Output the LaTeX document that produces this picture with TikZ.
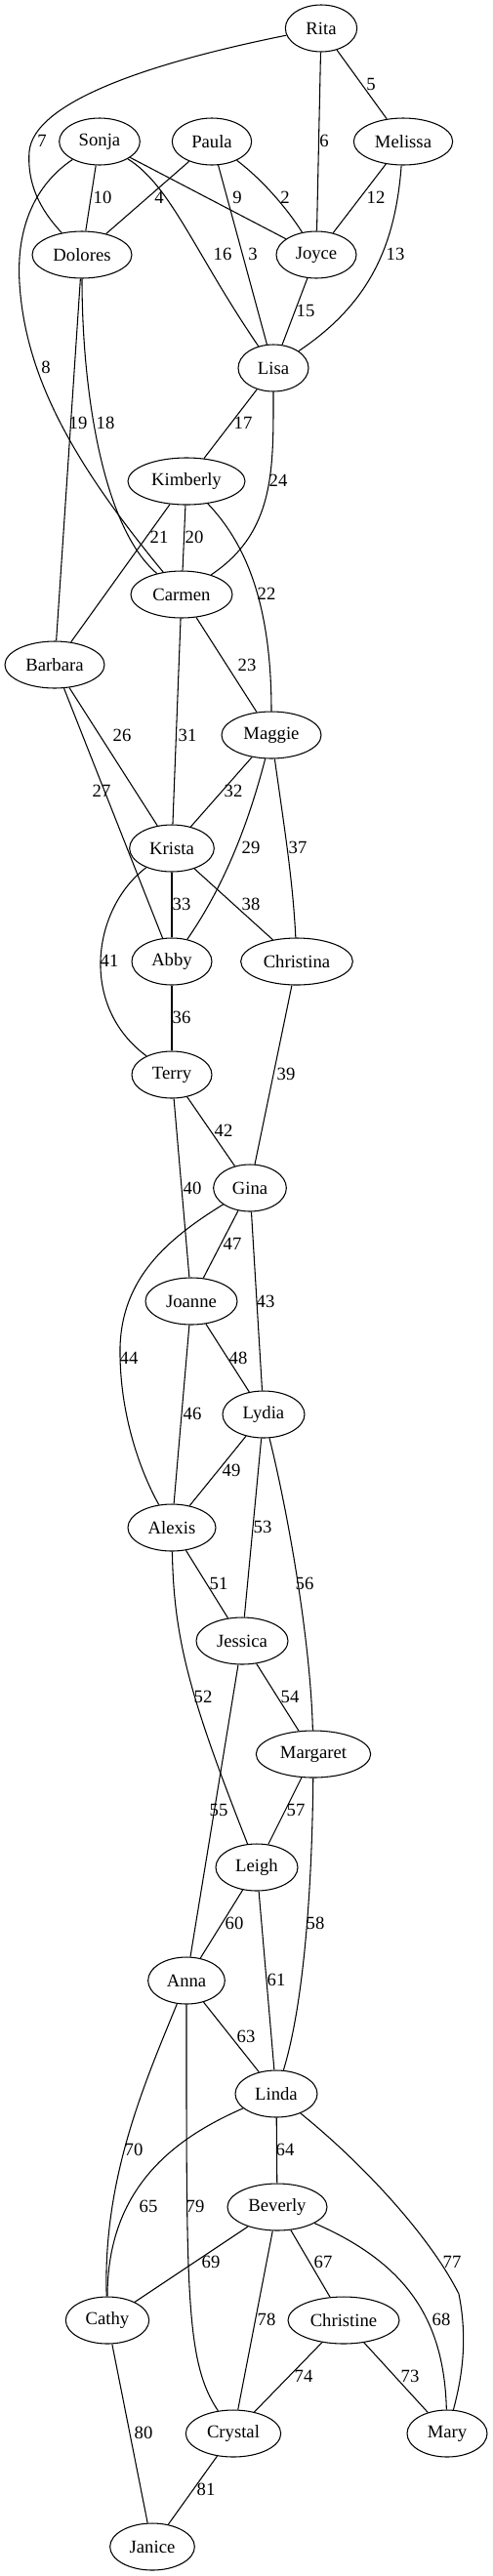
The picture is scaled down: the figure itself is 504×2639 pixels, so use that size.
\documentclass[tikz,border=0pt]{standalone}
\usepackage{fontspec}
\setmainfont{Liberation Serif}
\usetikzlibrary{shapes.geometric}
\tikzset{
  nd/.style={ellipse, draw, line width=0.8pt, minimum height=36pt, inner sep=0pt, font=\fontsize{14}{16}\selectfont},
  lab/.style={inner sep=0pt, font=\fontsize{14}{16}\selectfont},
  ed/.style={line width=0.8pt}
}
\begin{document}
\begin{tikzpicture}[x=0.75pt,y=-0.75pt]
\useasboundingbox (0,0) rectangle (504,2639);
% nodes
\node[nd, minimum width=55pt] (Rita) at (329,29) {Rita};
\node[nd, minimum width=62pt] (Sonja) at (102,145) {Sonja};
\node[nd, minimum width=61pt] (Paula) at (217,145) {Paula};
\node[nd, minimum width=76pt] (Melissa) at (413,145) {Melissa};
\node[nd, minimum width=76.5pt] (Dolores) at (84,261) {Dolores};
\node[nd, minimum width=61.5pt] (Joyce) at (324,261) {Joyce};
\node[nd, minimum width=54pt] (Lisa) at (280,377) {Lisa};
\node[nd, minimum width=90pt] (Kimberly) at (191,493) {Kimberly};
\node[nd, minimum width=78pt] (Carmen) at (186,609) {Carmen};
\node[nd, minimum width=76.5pt] (Barbara) at (56,681) {Barbara};
\node[nd, minimum width=76.5pt] (Maggie) at (278,753) {Maggie};
\node[nd, minimum width=65pt] (Krista) at (176,869) {Krista};
\node[nd, minimum width=61.5pt] (Abby) at (176,985) {Abby};
\node[nd, minimum width=86pt] (Christina) at (304,985) {Christina};
\node[nd, minimum width=61.5pt] (Terry) at (176,1101) {Terry};
\node[nd, minimum width=56pt] (Gina) at (256,1217) {Gina};
\node[nd, minimum width=70.5pt] (Joanne) at (196,1333) {Joanne};
\node[nd, minimum width=63pt] (Lydia) at (270,1449) {Lydia};
\node[nd, minimum width=67.5pt] (Alexis) at (176,1565) {Alexis};
\node[nd, minimum width=70.5pt] (Jessica) at (248,1681) {Jessica};
\node[nd, minimum width=88pt] (Margaret) at (321,1797) {Margaret};
\node[nd, minimum width=63pt] (Leigh) at (263,1913) {Leigh};
\node[nd, minimum width=59pt] (Anna) at (191,2029) {Anna};
\node[nd, minimum width=63pt] (Linda) at (283,2145) {Linda};
\node[nd, minimum width=76.5pt] (Beverly) at (284,2261) {Beverly};
\node[nd, minimum width=64pt] (Cathy) at (110,2377) {Cathy};
\node[nd, minimum width=85.5pt] (Christine) at (352,2377) {Christine};
\node[nd, minimum width=73pt] (Crystal) at (239,2493) {Crystal};
\node[nd, minimum width=61.5pt] (Mary) at (458,2493) {Mary};
\node[nd, minimum width=65pt] (Janice) at (156,2609) {Janice};
% edges
\draw[ed] (Rita) -- (Melissa) node[lab] at (380,86) {5};
\draw[ed] (Rita) -- (Joyce) node[lab] at (332,144) {6};
\draw[ed] (Rita) .. controls (150,65) and (35,105) .. (30,155) .. controls (27,195) and (48,222) .. (Dolores) node[lab] at (43,144) {7};
\draw[ed] (Sonja) -- (Dolores) node[lab] at (105,202) {10};
\draw[ed] (Paula) -- (Dolores) node[lab] at (163,202) {4};
\draw[ed] (Sonja) -- (Joyce) node[lab] at (243,202) {9};
\draw[ed] (Paula) .. controls (270,185) and (295,215) .. (Joyce) node[lab] at (292,202) {2};
\draw[ed] (Melissa) -- (Joyce) node[lab] at (385,202) {12};
\draw[ed] (Sonja) .. controls (175,190) and (200,260) .. (Lisa) node[lab] at (228,260) {16};
\draw[ed] (Paula) -- (Lisa) node[lab] at (259,260) {3};
\draw[ed] (Melissa) .. controls (405,250) and (380,310) .. (Lisa) node[lab] at (405,260) {13};
\draw[ed] (Joyce) -- (Lisa) node[lab] at (313,318) {15};
\draw[ed] (Sonja) .. controls (42,185) and (16,225) .. (20,290) .. controls (26,390) and (80,480) .. (Carmen) node[lab] at (47,376) {8};
\draw[ed] (Dolores) -- (Barbara) node[lab] at (80,433) {19};
\draw[ed] (Dolores) .. controls (84,400) and (105,540) .. (Carmen) node[lab] at (108,433) {18};
\draw[ed] (Lisa) -- (Kimberly) node[lab] at (249,433) {17};
\draw[ed] (Lisa) .. controls (280,480) and (282,545) .. (Carmen) node[lab] at (285,492) {24};
\draw[ed] (Kimberly) -- (Barbara) node[lab] at (163,550) {21};
\draw[ed] (Kimberly) -- (Carmen) node[lab] at (199,550) {20};
\draw[ed] (Kimberly) .. controls (250,555) and (278,615) .. (Maggie) node[lab] at (273,608) {22};
\draw[ed] (Carmen) -- (Maggie) node[lab] at (253,681) {23};
\draw[ed] (Carmen) -- (Krista) node[lab] at (192,753) {31};
\draw[ed] (Barbara) -- (Krista) node[lab] at (125,753) {26};
\draw[ed] (Barbara) -- (Abby) node[lab] at (104,810) {27};
\draw[ed] (Maggie) -- (Krista) node[lab] at (239,810) {32};
\draw[ed] (Maggie) .. controls (258,830) and (235,900) .. (Abby) node[lab] at (257,868) {29};
\draw[ed] (Maggie) .. controls (290,840) and (300,900) .. (Christina) node[lab] at (305,868) {37};
\draw[ed] (Krista) -- (Abby) node[lab] at (186,926) {33};
\draw[ed] (Krista) -- (Christina) node[lab] at (257,926) {38};
\draw[ed] (Krista) .. controls (95,930) and (80,1030) .. (Terry) node[lab] at (112,984) {41};
\draw[ed] (Abby) -- (Terry) node[lab] at (186,1042) {36};
\draw[ed] (Christina) -- (Gina) node[lab] at (293,1100) {39};
\draw[ed] (Terry) -- (Gina) node[lab] at (229,1158) {42};
\draw[ed] (Terry) -- (Joanne) node[lab] at (197,1217) {40};
\draw[ed] (Gina) .. controls (170,1270) and (125,1310) .. (123,1380) .. controls (122,1450) and (145,1510) .. (Alexis) node[lab] at (132,1391) {44};
\draw[ed] (Gina) -- (Joanne) node[lab] at (238,1274) {47};
\draw[ed] (Gina) -- (Lydia) node[lab] at (272,1333) {43};
\draw[ed] (Joanne) -- (Lydia) node[lab] at (244,1391) {48};
\draw[ed] (Joanne) -- (Alexis) node[lab] at (197,1448) {46};
\draw[ed] (Lydia) -- (Alexis) node[lab] at (237,1506) {49};
\draw[ed] (Lydia) -- (Jessica) node[lab] at (269,1564) {53};
\draw[ed] (Lydia) .. controls (295,1550) and (318,1680) .. (Margaret) node[lab] at (312,1622) {56};
\draw[ed] (Alexis) -- (Jessica) node[lab] at (224,1622) {51};
\draw[ed] (Alexis) .. controls (178,1680) and (195,1740) .. (Leigh) node[lab] at (208,1738) {52};
\draw[ed] (Jessica) -- (Anna) node[lab] at (224,1854) {55};
\draw[ed] (Jessica) -- (Margaret) node[lab] at (297,1738) {54};
\draw[ed] (Margaret) -- (Leigh) node[lab] at (303,1854) {57};
\draw[ed] (Margaret) .. controls (320,1900) and (315,2040) .. (Linda) node[lab] at (323,1970) {58};
\draw[ed] (Leigh) -- (Anna) node[lab] at (240,1970) {60};
\draw[ed] (Leigh) -- (Linda) node[lab] at (283,2028) {61};
\draw[ed] (Anna) -- (Linda) node[lab] at (252,2086) {63};
\draw[ed] (Anna) .. controls (150,2130) and (105,2230) .. (Cathy) node[lab] at (137,2202) {70};
\draw[ed] (Anna) .. controls (191,2350) and (190,2420) .. (Crystal) node[lab] at (200,2260) {79};
\draw[ed] (Linda) .. controls (180,2190) and (110,2240) .. (Cathy) node[lab] at (152,2260) {65};
\draw[ed] (Linda) -- (Beverly) node[lab] at (292,2202) {64};
\draw[ed] (Linda) .. controls (370,2215) and (440,2290) .. (470,2350) .. controls (480,2400) and (472,2440) .. (Mary) node[lab] at (463,2317) {77};
\draw[ed] (Beverly) -- (Cathy) node[lab] at (216,2317) {69};
\draw[ed] (Beverly) -- (Christine) node[lab] at (331,2317) {67};
\draw[ed] (Beverly) -- (Crystal) node[lab] at (273,2376) {78};
\draw[ed] (Beverly) .. controls (420,2320) and (455,2380) .. (Mary) node[lab] at (452,2376) {68};
\draw[ed] (Christine) -- (Crystal) node[lab] at (311,2434) {74};
\draw[ed] (Christine) -- (Mary) node[lab] at (420,2434) {73};
\draw[ed] (Cathy) -- (Janice) node[lab] at (147,2492) {80};
\draw[ed] (Crystal) -- (Janice) node[lab] at (211,2550) {81};
\end{tikzpicture}
\end{document}
